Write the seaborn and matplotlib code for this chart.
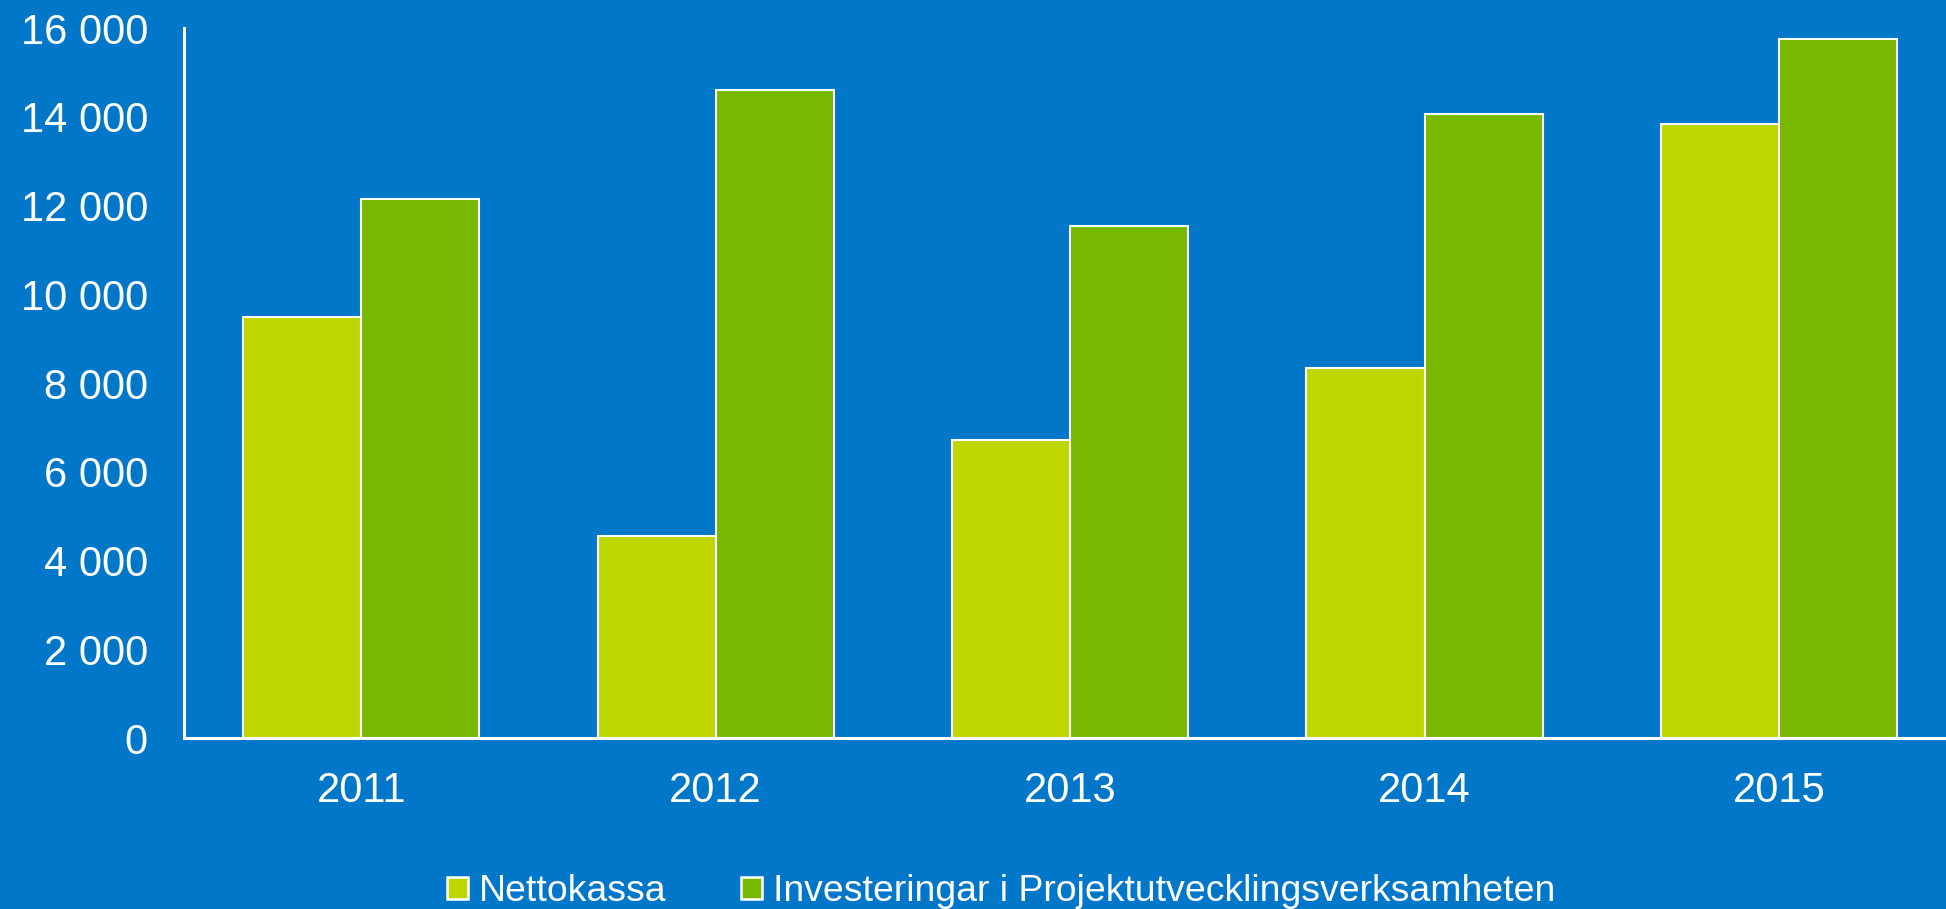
import pandas as pd
import matplotlib.pyplot as plt
import seaborn as sns
from matplotlib.patches import Patch
from matplotlib.ticker import FuncFormatter

years = ["2011", "2012", "2013", "2014", "2015"]
nettokassa = [9500, 4560, 6720, 8340, 13840]
investeringar = [12150, 14600, 11550, 14070, 15745]
series_names = ["Nettokassa", "Investeringar i Projektutvecklingsverksamheten"]
colors = ["#BED600", "#78B800"]
bg = "#0077C8"

df = pd.DataFrame({
    "year": years * 2,
    "value": nettokassa + investeringar,
    "series": [series_names[0]] * len(years) + [series_names[1]] * len(years),
})

sns.set_style("white")
plt.rcParams["font.family"] = ["Liberation Sans", "DejaVu Sans"]

fig = plt.figure(figsize=(19.46, 9.09), dpi=100, facecolor=bg)
ax = fig.add_axes([0.0946, 0.188, 0.9106, 0.781])
ax.set_facecolor(bg)

sns.barplot(data=df, x="year", y="value", hue="series", palette=colors,
            saturation=1, width=2 / 3, gap=0, edgecolor="white", linewidth=1.5,
            legend=False, ax=ax)

ax.set_xlim(-0.5, 4.5)
ax.set_ylim(0, 16000)
ax.set_yticks(range(0, 16001, 2000))
ax.yaxis.set_major_formatter(FuncFormatter(lambda v, p: f"{int(v):,}".replace(",", " ")))
ax.set_xlabel("")
ax.set_ylabel("")
ax.tick_params(axis="both", length=0, labelsize=30, colors="white")
ax.tick_params(axis="y", pad=26)
ax.tick_params(axis="x", pad=24)

for side in ["top", "right"]:
    ax.spines[side].set_visible(False)
for side in ["left", "bottom"]:
    ax.spines[side].set_color("white")
    ax.spines[side].set_linewidth(2.2)
    ax.spines[side].set_zorder(5)

handles = [Patch(facecolor=c, edgecolor="white", linewidth=1.8) for c in colors]
leg = fig.legend(handles, series_names, loc="center", bbox_to_anchor=(0.5145, 0.019),
                 ncol=2, frameon=False, fontsize=26.9, handlelength=0.55, handleheight=0.55,
                 handletextpad=0.3, columnspacing=2.0, labelcolor="white")

fig.savefig("out.png", dpi=100, facecolor=bg)
